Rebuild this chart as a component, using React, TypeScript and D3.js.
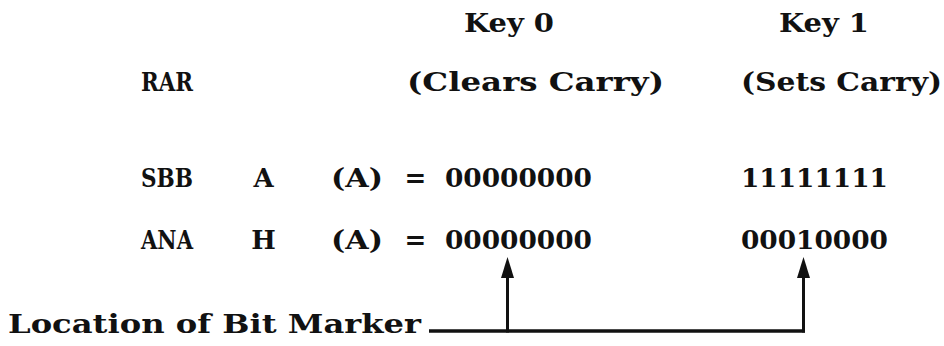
import * as d3 from "d3";
import { useEffect, useRef } from "react";

// text of the figure
const keyLabels = ["Key 0", "Key 1"];
const keyNotes = ["(Clears Carry)", "(Sets Carry)"];
const mnemonics = ["RAR", "SBB", "ANA"];
const operands = ["", "A", "H"];
const key0Results = ["", "00000000", "00000000"];
const key1Results = ["", "11111111", "00010000"];
const markerLabel = "Location of Bit Marker";
const markerBit = 3; // bit column (from the left) that the arrows point at

const W = 944;
const H = 346;

const App = () => {
    const ref = useRef(null);

    useEffect(() => {
        const svg = d3.select(ref.current);
        svg.selectAll("*").remove();

        // typewriter columns -> x (left edge of a character cell)
        const colX = d3.scaleLinear()
            .domain([0, 31, 39, 51])
            .range([7, 596, 740, 968]);
        // typed lines -> baseline y
        const rowY = d3.scaleOrdinal()
            .domain([0, 1, 2, 3, 4])
            .range([32, 91, 187, 249, 333]);

        const col = { mnemonic: 7, operand: 13, reg: 17, eq: 21, key0: 23, key1: 39 };
        const headCols = [col.key0 + 1, col.key1 + 2];
        const noteCols = [col.key0 - 2, col.key1];

        const g = svg.append("g")
            .style("font-family", "'DejaVu Serif', serif")
            .style("font-weight", "bold")
            .style("font-size", "26px")
            .style("fill", "#111");

        const put = (str, c, row) => {
            if (!str) return;
            const t = g.append("text").attr("y", rowY(row)).text(str);
            if (str.length === 1) {
                t.attr("x", (colX(c) + colX(c + 1)) / 2).attr("text-anchor", "middle");
            } else {
                const x0 = colX(c) + 1;
                const x1 = Math.min(colX(c + str.length) - 4, W - 2);
                t.attr("x", x0)
                    .attr("textLength", x1 - x0)
                    .attr("lengthAdjust", "spacingAndGlyphs");
            }
        };

        keyLabels.forEach((s, i) => put(s, headCols[i], 0));
        keyNotes.forEach((s, i) => put(s, noteCols[i], 1));

        mnemonics.forEach((m, i) => {
            const row = i + 1;
            put(m, col.mnemonic, row);
            put(operands[i], col.operand, row);
            if (key0Results[i]) {
                put("(A)", col.reg, row);
                put("=", col.eq, row);
            }
            put(key0Results[i], col.key0, row);
            put(key1Results[i], col.key1, row);
        });

        put(markerLabel, 0, 4);

        // arrows from the marker line up to the marked bit
        const lineY = rowY(4) - 2;
        const tipY = rowY(3) + 8;
        const arrowX = [col.key0, col.key1].map(c => (colX(c + markerBit) + colX(c + markerBit + 1)) / 2 - 3);

        svg.append("line")
            .attr("x1", colX(markerLabel.length) + 4)
            .attr("x2", arrowX[1] + 1.5)
            .attr("y1", lineY)
            .attr("y2", lineY)
            .attr("stroke", "#111")
            .attr("stroke-width", 3.5);

        arrowX.forEach(x => {
            svg.append("line")
                .attr("x1", x).attr("x2", x)
                .attr("y1", lineY + 1.5).attr("y2", tipY + 18)
                .attr("stroke", "#111")
                .attr("stroke-width", 3);
            svg.append("path")
                .attr("d", d3.line()([[x, tipY], [x + 6.5, tipY + 21], [x - 6.5, tipY + 21]]) + "Z")
                .attr("fill", "#111");
        });
    }, []);

    return (
        <svg ref={ref} width={W} height={H}
            style={{ position: "absolute", left: 0, top: 0, background: "#fff" }}></svg>
    );
};

export default App;
